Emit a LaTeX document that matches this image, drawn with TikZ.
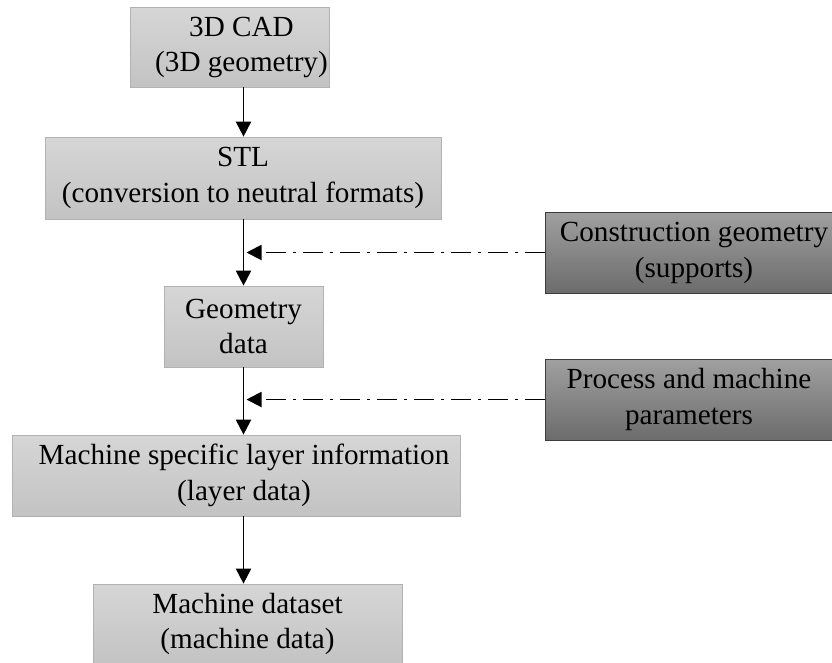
\documentclass[tikz,border=0pt]{standalone}
\usepackage{fontspec}
\setmainfont{Liberation Serif}
\usepackage{tikz}
\usetikzlibrary{arrows.meta, positioning, calc, shadings}
\usepackage{xcolor}
\definecolor{procTop}{RGB}{214,214,214}
\definecolor{procBottom}{RGB}{195,195,195}
\definecolor{procBorder}{RGB}{178,178,178}
\definecolor{inTop}{RGB}{160,160,160}
\definecolor{inBottom}{RGB}{108,108,108}
\definecolor{inBorder}{RGB}{60,60,60}
% text block pushed right inside its box
\newcommand{\offtext}[2]{\hspace*{#1}\begin{tabular}{@{}c@{}}#2\end{tabular}}
\tikzset{
  procbox/.style={
    rectangle, minimum height=1.62cm,
    align=center, inner sep=0pt,
    draw=procBorder, top color=procTop, bottom color=procBottom,
    font=\fontsize{16.6}{20}\selectfont
  },
  inputbox/.style={
    rectangle, minimum width=5.76cm, minimum height=1.62cm,
    align=center, inner sep=0pt,
    draw=inBorder, top color=inTop, bottom color=inBottom,
    font=\fontsize{16.6}{20}\selectfont
  },
  flow/.style={-{Triangle[length=0.3cm, width=0.3cm]}, line width=1.1pt, color=black},
  feed/.style={-{Triangle[length=0.3cm, width=0.3cm]}, line width=1.1pt, color=black,
    dash pattern=on 0.4cm off 0.14cm on 0.06cm off 0.14cm},
}
\begin{document}
\begin{tikzpicture}

  \useasboundingbox (0,0) rectangle (16.64,-13.24);

  % Main chain
  \node[procbox, minimum width=3.98cm, minimum height=1.6cm] (cad) at (4.59,-0.94)
        {\offtext{0.48cm}{3D CAD\\(3D geometry)}};
  \node[procbox, minimum width=7.92cm, minimum height=1.64cm] (stl) at (4.86,-3.56)
        {STL\\(conversion to neutral formats)};
  \node[procbox, minimum width=3.18cm] (geo) at (4.87,-6.53)
        {Geometry\\data};
  \node[procbox, minimum width=8.96cm] (layer) at (4.72,-9.51)
        {\offtext{0.32cm}{Machine specific layer information\\(layer data)}};
  \node[procbox, minimum width=6.18cm, minimum height=1.6cm] (dataset) at (4.95,-12.48)
        {Machine dataset\\(machine data)};

  % Side inputs
  \node[inputbox] (supports) at (13.78,-5.05)
        {\offtext{0.2cm}{Construction geometry\\(supports)}};
  \node[inputbox] (params)   at (13.78,-7.99) {Process and machine\\parameters};

  \coordinate (spine) at (4.87,0);

  % Main arrows
  \draw[flow] (cad.south -| spine)   -- (stl.north -| spine);
  \draw[flow] (stl.south -| spine)   -- (geo.north -| spine);
  \draw[flow] (geo.south -| spine)   -- (layer.north -| spine);
  \draw[flow] (layer.south -| spine) -- (dataset.north -| spine);

  % Side arrows
  \draw[feed, shorten >=0.06cm] (supports.west) -- (supports.west -| spine);
  \draw[feed, shorten >=0.06cm] (params.west)   -- (params.west -| spine);

\end{tikzpicture}
\end{document}
